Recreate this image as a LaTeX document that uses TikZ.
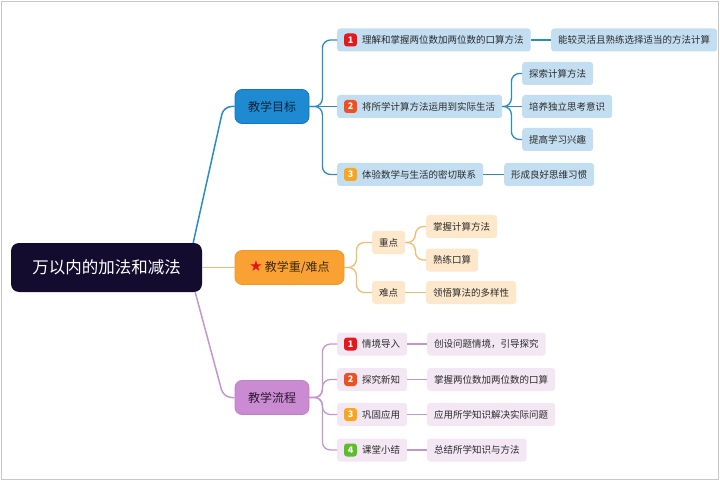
\documentclass[tikz,border=0pt]{standalone}
\usepackage{fontspec}
\setmainfont{Noto Sans CJK SC}
\newfontfamily\symfont{DejaVu Sans}
\usepackage{xcolor}
\usetikzlibrary{positioning,calc}
\definecolor{rootfill}{HTML}{130C2E}
\definecolor{goalfill}{HTML}{1E8AD2}
\definecolor{goaldraw}{HTML}{1676BA}
\definecolor{goaltext}{HTML}{10243A}
\definecolor{goalsub}{HTML}{C2DEF0}
\definecolor{goalline}{HTML}{2B8CC4}
\definecolor{keyfill}{HTML}{F9A233}
\definecolor{keydraw}{HTML}{F09A2A}
\definecolor{keytext}{HTML}{3A2A10}
\definecolor{keysub}{HTML}{FDE8CB}
\definecolor{keyline}{HTML}{F0BC70}
\definecolor{flowfill}{HTML}{CB8BD2}
\definecolor{flowdraw}{HTML}{C07FC8}
\definecolor{flowtext}{HTML}{2A1A30}
\definecolor{flowsub}{HTML}{F3E7F4}
\definecolor{flowline}{HTML}{C396CE}
\definecolor{num1}{HTML}{E8151B}
\definecolor{num2}{HTML}{EF5021}
\definecolor{num3}{HTML}{F6A623}
\definecolor{num4}{HTML}{5CBE2B}
\definecolor{starred}{HTML}{E5141A}
\definecolor{txtgray}{HTML}{2B2B2B}
\definecolor{framegray}{HTML}{C8C8C8}

\begin{document}
\begin{tikzpicture}[x=1pt, y=-1pt,
    rootbox/.style={rectangle, fill=rootfill, text=white, rounded corners=8pt, minimum width=191pt, minimum height=49pt, font=\fontsize{16.5}{18}\selectfont},
    topic/.style={rectangle, draw, line width=0.8pt, rounded corners=7pt, minimum width=74pt, minimum height=34pt, font=\fontsize{12}{14}\selectfont},
    sub/.style={rectangle, rounded corners=3pt, minimum height=23pt, inner xsep=7pt, inner ysep=0pt, text=txtgray, font=\fontsize{9.5}{11}\selectfont},
    numsub/.style={sub, execute at begin node={\hspace*{18pt}}},
    badge/.style={rectangle, rounded corners=3pt, minimum size=13pt, inner sep=0pt, text=white, font=\fontsize{9}{9}\bfseries\selectfont},
    link/.style={line width=1.3pt, rounded corners=8pt}
]
    \useasboundingbox (0,0) rectangle (720,481);
    \draw[framegray, line width=1.5pt] (1.5,1.5) rectangle (718.5,479.5);

    % Root
    \node[rootbox] (root) at (106.5,267.5) {万以内的加法和减法};

    % Teaching goals
    \node[topic, fill=goalfill, draw=goaldraw, text=goaltext] (goal) at (272,106.5) {教学目标};
    \node[numsub, fill=goalsub, anchor=west] (g1) at (337,40) {理解和掌握两位数加两位数的口算方法};
    \node[badge, fill=num1] (g1n) at ([xshift=13.5]g1.west) {1};
    \node[numsub, fill=goalsub, anchor=west] (g2) at (337,106.5) {将所学计算方法运用到实际生活};
    \node[badge, fill=num2] (g2n) at ([xshift=13.5]g2.west) {2};
    \node[numsub, fill=goalsub, anchor=west] (g3) at (337,174.5) {体验数学与生活的密切联系};
    \node[badge, fill=num3] (g3n) at ([xshift=13.5]g3.west) {3};
    \node[sub, fill=goalsub, anchor=west] (g1a) at (551,40) {能较灵活且熟练选择适当的方法计算};
    \node[sub, fill=goalsub, anchor=west] (g2a) at (522,73.5) {探索计算方法};
    \node[sub, fill=goalsub, anchor=west] (g2b) at (522,106.5) {培养独立思考意识};
    \node[sub, fill=goalsub, anchor=west] (g2c) at (522,139.5) {提高学习兴趣};
    \node[sub, fill=goalsub, anchor=west] (g3a) at (504,174.5) {形成良好思维习惯};

    % Key and difficult points
    \node[topic, fill=keyfill, draw=keydraw, text=keytext, minimum width=109pt] (key) at (289.5,267.5) {{\symfont\color{starred}\fontsize{15}{15}\selectfont ★}\,教学重/难点};
    \node[sub, fill=keysub, anchor=west] (k1) at (372,242.5) {重点};
    \node[sub, fill=keysub, anchor=west] (k2) at (372,292.5) {难点};
    \node[sub, fill=keysub, anchor=west] (k1a) at (426,226.5) {掌握计算方法};
    \node[sub, fill=keysub, anchor=west] (k1b) at (426,260) {熟练口算};
    \node[sub, fill=keysub, anchor=west] (k2a) at (426,292.5) {领悟算法的多样性};

    % Teaching process
    \node[topic, fill=flowfill, draw=flowdraw, text=flowtext] (flow) at (272,397.5) {教学流程};
    \node[numsub, fill=flowsub, anchor=west] (f1) at (337,344) {情境导入};
    \node[badge, fill=num1] (f1n) at ([xshift=13.5]f1.west) {1};
    \node[numsub, fill=flowsub, anchor=west] (f2) at (337,379.5) {探究新知};
    \node[badge, fill=num2] (f2n) at ([xshift=13.5]f2.west) {2};
    \node[numsub, fill=flowsub, anchor=west] (f3) at (337,414.5) {巩固应用};
    \node[badge, fill=num3] (f3n) at ([xshift=13.5]f3.west) {3};
    \node[numsub, fill=flowsub, anchor=west] (f4) at (337,450) {课堂小结};
    \node[badge, fill=num4] (f4n) at ([xshift=13.5]f4.west) {4};
    \node[sub, fill=flowsub, anchor=west] (f1a) at (427,344) {创设问题情境，引导探究};
    \node[sub, fill=flowsub, anchor=west] (f2a) at (427,379.5) {掌握两位数加两位数的口算};
    \node[sub, fill=flowsub, anchor=west] (f3a) at (427,414.5) {应用所学知识解决实际问题};
    \node[sub, fill=flowsub, anchor=west] (f4a) at (427,450) {总结所学知识与方法};

    % Root links
    \draw[link, goalline, line width=1.5pt] ([xshift=-9]root.north east) -- ([xshift=-11]goal.west) -- (goal.west);
    \draw[link, keyline, line width=1.5pt] (root.east) -- (key.west);
    \draw[link, flowline, line width=1.5pt] ([xshift=-7]root.south east) -- ([xshift=-11]flow.west) -- (flow.west);

    % Goal links
    \draw[link, goalline] (goal.east) -- ++(13,0) |- (g1.west);
    \draw[link, goalline] (goal.east) -- (g2.west);
    \draw[link, goalline] (goal.east) -- ++(13,0) |- (g3.west);
    \draw[link, goalline] (g1.east) -- (g1a.west);
    \draw[link, goalline] (g2.east) -- ++(9,0) |- (g2a.west);
    \draw[link, goalline] (g2.east) -- (g2b.west);
    \draw[link, goalline] (g2.east) -- ++(9,0) |- (g2c.west);
    \draw[link, goalline] (g3.east) -- (g3a.west);

    % Key links
    \draw[link, keyline] (key.east) -- ++(12,0) |- (k1.west);
    \draw[link, keyline] (key.east) -- ++(12,0) |- (k2.west);
    \draw[link, keyline] (k1.east) -- ++(10,0) |- (k1a.west);
    \draw[link, keyline] (k1.east) -- ++(10,0) |- (k1b.west);
    \draw[link, keyline] (k2.east) -- (k2a.west);

    % Flow links
    \foreach \i in {1,...,4} {
        \draw[link, flowline] (flow.east) -- ++(13,0) |- (f\i.west);
        \draw[link, flowline] (f\i.east) -- (f\i a.west);
    }
\end{tikzpicture}
\end{document}
